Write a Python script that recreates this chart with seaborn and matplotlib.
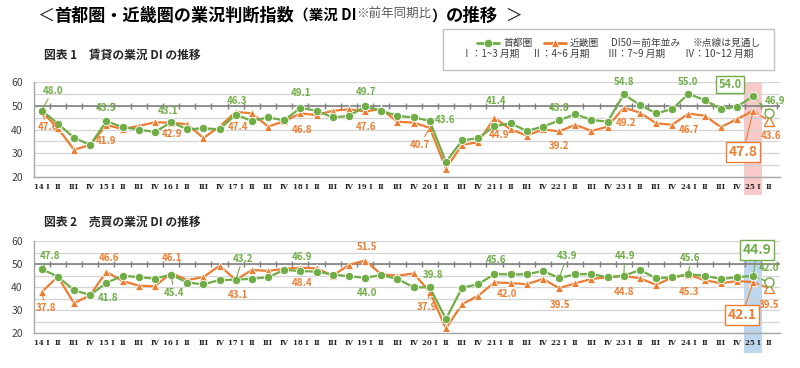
import numpy as np
import pandas as pd
import matplotlib
matplotlib.use("Agg")
import matplotlib.pyplot as plt
import seaborn as sns
from matplotlib.patches import Rectangle
from matplotlib.lines import Line2D

# ---- data (14 I ... 25 I actual, 25 II outlook) ----
years = list(range(14, 26))
quarters = ["I", "II", "III", "IV"]

rent_tokyo = [48.0, 42.5, 36.5, 33.5,  43.5, 41.0, 40.0, 38.9,  43.1, 40.1, 40.5, 40.1,
              46.3, 43.6, 45.1, 43.8,  49.1, 47.9, 45.1, 45.7,  49.7, 47.9, 45.7, 45.1,
              43.6, 26.3, 35.4, 36.4,  41.4, 42.6, 39.4, 41.2,  43.8, 46.5, 44.0, 43.3,
              54.8, 50.3, 46.8, 48.6,  55.0, 52.4, 48.6, 49.6,  54.0]
rent_kinki = [47.6, 40.5, 31.5, 33.5,  41.9, 40.2, 41.5, 43.0,  42.9, 42.2, 36.4, 41.2,
              47.4, 46.8, 41.2, 43.5,  46.8, 46.1, 47.9, 48.5,  47.6, 48.6, 43.3, 42.9,
              40.7, 23.5, 33.6, 34.6,  44.9, 40.1, 37.4, 40.1,  39.2, 42.0, 39.4, 41.2,
              49.2, 47.1, 42.6, 42.0,  46.7, 45.8, 41.0, 44.4,  47.8]
sale_tokyo = [47.8, 44.5, 38.6, 36.5,  41.8, 44.9, 44.3, 43.6,  45.4, 41.9, 41.2, 43.0,
              43.2, 43.6, 44.2, 47.5,  46.9, 46.7, 45.4, 44.7,  44.0, 45.2, 43.5, 39.9,
              39.8, 26.1, 39.7, 41.2,  45.6, 45.5, 45.5, 47.0,  43.9, 45.5, 45.7, 44.2,
              44.9, 47.4, 43.8, 44.2,  45.6, 44.9, 43.5, 44.2,  44.9]
sale_kinki = [37.8, 44.5, 32.9, 36.5,  46.6, 42.6, 40.6, 40.3,  46.1, 43.0, 44.3, 49.3,
              43.1, 47.4, 47.0, 47.9,  48.4, 48.1, 44.9, 49.6,  51.5, 45.5, 44.9, 45.9,
              37.9, 22.0, 32.5, 36.2,  42.0, 41.7, 41.2, 43.5,  39.5, 41.6, 43.5, 44.2,
              44.8, 43.8, 40.9, 44.2,  45.3, 43.0, 41.6, 42.6,  42.1]
# 25 II outlook
rent_tokyo_fc, rent_kinki_fc = 46.9, 43.6
sale_tokyo_fc, sale_kinki_fc = 42.0, 39.5

tick_labels = [f"{y} {q}" if q == "I" else q for y in years for q in quarters][:46]

GREEN = "#70AD47"
ORANGE = "#ED7D31"

# label offsets in pixels for points 14I,15I,...,24I, 25I(box), 25II
rent_t_off = [(11, 20), (0, 13), (-3, 11), (1, 14), (1, 15), (1, 14), (15, 1),
              (2, 25), (0, 12), (0, 12), (0, 12), (-23, 12), (6, 12)]
rent_k_off = [(6, -16), (0, -16), (1, -11), (2, -15), (2, -17), (1, -16), (-10, -17),
              (5, -17), (0, -15), (2, -15), (1, -16), (-10, -41), (2, -15)]
sale_t_off = [(8, 13), (2, -15), (3, -18), (7, 21), (2, 14), (2, -15), (3, 12),
              (2, 14), (8, 22), (1, 20), (2, 16), (4, 26), (0, 14)]
sale_k_off = [(4, -16), (3, 14), (1, 15), (2, -15), (2, -15), (2, 14), (-3, -15),
              (12, -12), (1, -17), (0, -16), (1, -17), (-11, -33), (0, -17)]
rent_t_lead = [1, 0, 0, 0, 0, 0, 0, 0, 0, 0, 0, 0, 0]
rent_k_lead = [1, 0, 0, 0, 0, 0, 1, 0, 0, 0, 0, 1, 0]
sale_t_lead = [1, 0, 1, 1, 0, 0, 0, 0, 1, 1, 1, 1, 0]
sale_k_lead = [1, 0, 0, 0, 0, 0, 1, 0, 0, 0, 0, 1, 0]

sns.set_style("white")
plt.rcParams["font.family"] = ["Noto Sans CJK JP", "DejaVu Sans"]

fig = plt.figure(figsize=(8, 3.68), dpi=100)


def px_x(p):
    return p / 800


def px_y(p):
    return 1 - p / 368


def put_labels(ax, vals, fc, offs, leads, color, box_size):
    n = len(vals)
    xs = list(range(0, n, 4)) + [n]
    ys = [vals[i] for i in range(0, n, 4)] + [fc]
    for k, (xi, yi) in enumerate(zip(xs, ys)):
        kw = dict(ha="center", va="center", color=color, fontweight="bold",
                  fontsize=7, zorder=8)
        if xi == n - 1:
            kw["fontsize"] = box_size
            kw["bbox"] = dict(boxstyle="square,pad=0.2", fc="white", ec=color, lw=1.0)
        if leads[k]:
            kw["arrowprops"] = dict(arrowstyle="-", color=color, lw=0.8,
                                    shrinkA=0, shrinkB=2)
        ax.annotate(f"{yi:.1f}", (xi, yi), xytext=offs[k],
                    textcoords="offset pixels", **kw)


def draw_panel(rect, tokyo, kinki, tokyo_fc, kinki_fc, band_color, band_low,
               offs, leads, box_sizes):
    ax = fig.add_axes(rect)
    n = len(tokyo)
    x = np.arange(n)
    df = pd.DataFrame({"q": np.r_[x, x], "di": kinki + tokyo,
                       "area": ["近畿圏"] * n + ["首都圏"] * n})
    ax.axvspan(n - 1 - 0.55, n - 1 + 0.55, ymin=band_low, ymax=1.0,
               color=band_color, lw=0, clip_on=False, zorder=0)
    sns.lineplot(data=df, x="q", y="di", hue="area", style="area",
                 hue_order=["近畿圏", "首都圏"],
                 palette={"首都圏": GREEN, "近畿圏": ORANGE},
                 markers={"首都圏": "o", "近畿圏": "^"}, dashes=False,
                 markersize=6, markeredgecolor="white", markeredgewidth=0.6,
                 linewidth=1.6, legend=False, ax=ax, zorder=4)
    # outlook segment
    fx = [n - 1, n]
    for vals, fcv, col, mk in [(kinki, kinki_fc, ORANGE, "^"), (tokyo, tokyo_fc, GREEN, "o")]:
        sns.lineplot(x=fx, y=[vals[-1], fcv], color=col, linestyle="--",
                     linewidth=1.2, ax=ax, zorder=3)
        ax.plot([n], [fcv], marker=mk, ms=6.5, mfc="white", mec=col, mew=1.0,
                ls="none", zorder=5)
    # DI50 line with quarter ticks
    ax.axhline(50, color="#808080", lw=1.2, zorder=2)
    ax.plot(np.arange(n + 2) - 0.5, [50] * (n + 2), marker="|", ms=5, mew=1.0,
            color="#808080", ls="none", zorder=2)
    ax.set_ylim(20, 60)
    ax.set_xlim(-0.476, 45.66)
    ax.set_yticks([20, 30, 40, 50, 60])
    ax.set_yticks([25, 35, 45, 55], minor=True)
    ax.grid(axis="y", which="both", color="#d4d4d4", lw=0.9, zorder=1)
    ax.set_axisbelow(True)
    ax.set_xticks(np.arange(n + 1))
    ax.set_xticklabels(tick_labels, fontsize=5, family="DejaVu Serif",
                       fontweight="bold", color="#262626")
    ax.tick_params(axis="x", length=0, pad=4)
    ax.tick_params(axis="y", which="both", length=0, pad=8, labelsize=7.5,
                   labelcolor="#404040")
    ax.set_xlabel("")
    ax.set_ylabel("")
    for s in ["top", "right"]:
        ax.spines[s].set_visible(False)
    for s in ["left", "bottom"]:
        ax.spines[s].set_color("#a6a6a6")
        ax.spines[s].set_linewidth(1.0)
    put_labels(ax, tokyo, tokyo_fc, offs[0], leads[0], GREEN, box_sizes[0])
    put_labels(ax, kinki, kinki_fc, offs[1], leads[1], ORANGE, box_sizes[1])
    return ax


draw_panel([px_x(34), px_y(177), px_x(746), 95 / 368], rent_tokyo, rent_kinki,
           rent_tokyo_fc, rent_kinki_fc, "#f8c9c9", -0.19,
           (rent_t_off, rent_k_off), (rent_t_lead, rent_k_lead), (8, 10))
draw_panel([px_x(34), px_y(333), px_x(746), 92 / 368], sale_tokyo, sale_kinki,
           sale_tokyo_fc, sale_kinki_fc, "#bdd7ee", -0.22,
           (sale_t_off, sale_k_off), (sale_t_lead, sale_k_lead), (10, 10))

# ---- title (pieces placed one after another) ----
renderer = fig.canvas.get_renderer()
ty = px_y(16)
title_parts = [("＜", 12.3, "normal", "#262626", 0),
               ("首都圏・近畿圏の業況判断指数", 12.3, "bold", "#000000", 0),
               ("（業況 DI", 10.5, "bold", "#000000", 0),
               ("※前年同期比", 9, "normal", "#595959", 0.003),
               ("）", 10.5, "bold", "#000000", 0),
               ("の推移", 12.5, "bold", "#000000", 0),
               ("  ＞", 12.3, "normal", "#262626", 0)]
cx = px_x(37)
for txt, size, weight, col, dy in title_parts:
    t = fig.text(cx, ty + dy, txt, fontsize=size, fontweight=weight, color=col,
                 va="center")
    cx = t.get_window_extent(renderer).x1 / fig.bbox.width

fig.text(px_x(44), px_y(55), "図表 1　賃貸の業況 DI の推移", fontsize=8.5,
         fontweight="bold", va="center")
fig.text(px_x(44), px_y(222), "図表 2　売買の業況 DI の推移", fontsize=8.5,
         fontweight="bold", va="center")

# ---- legend box ----
fig.patches.append(Rectangle((px_x(443), px_y(70)), px_x(331), 41 / 368,
                             transform=fig.transFigure, fill=False,
                             ec="#bfbfbf", lw=1.0))
ly1, ly2 = px_y(43), px_y(54)
for x0, col, mk in [(477, GREEN, "o"), (544, ORANGE, "^")]:
    fig.add_artist(Line2D([px_x(x0), px_x(x0 + 22)], [ly1, ly1], color=col, lw=2,
                          transform=fig.transFigure))
    fig.add_artist(Line2D([px_x(x0 + 11)], [ly1], color=col, marker=mk, ms=6,
                          mec="white", mew=0.5, transform=fig.transFigure))
leg_kw = dict(fontsize=7, va="center", color="#404040")
fig.text(px_x(503), ly1, "首都圏", **leg_kw)
fig.text(px_x(570), ly1, "近畿圏", **leg_kw)
fig.text(px_x(611), ly1, "DI50＝前年並み", **leg_kw)
fig.text(px_x(693), ly1, "※点線は見通し", **leg_kw)
fig.text(px_x(462), ly2, "Ⅰ：1~3 月期", **leg_kw)
fig.text(px_x(532), ly2, "Ⅱ：4~6 月期", **leg_kw)
fig.text(px_x(608), ly2, "Ⅲ：7~9 月期", **leg_kw)
fig.text(px_x(685), ly2, "Ⅳ：10~12 月期", **leg_kw)

fig.savefig("out.png", dpi=100)
plt.close(fig)
